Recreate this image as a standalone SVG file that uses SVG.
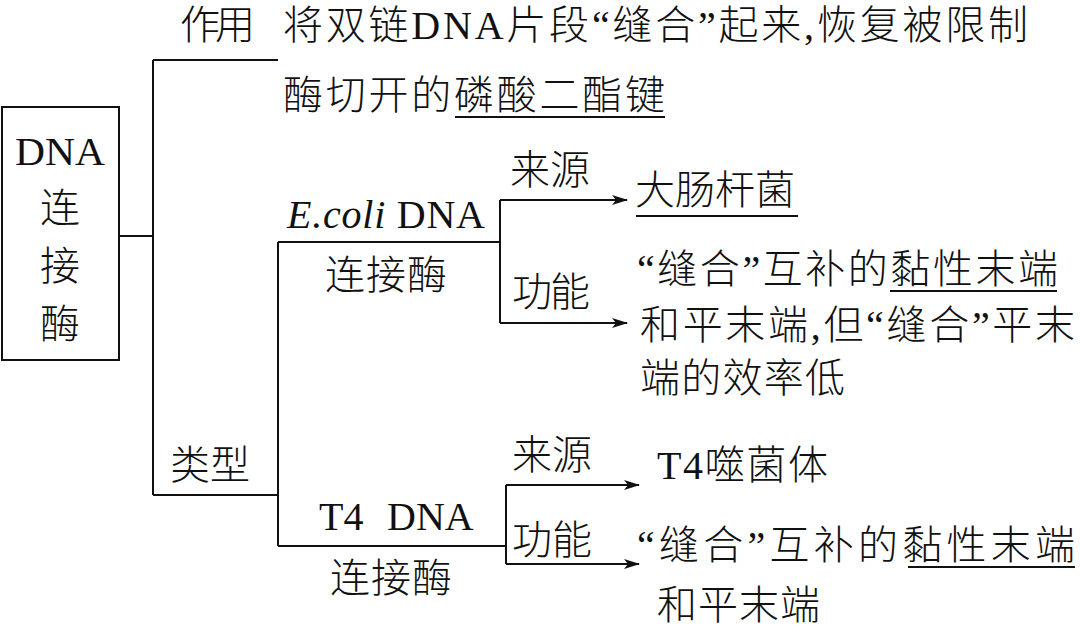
<svg xmlns="http://www.w3.org/2000/svg" width="1080" height="632" viewBox="0 0 1080 632">
<style>
  text { font-family: "Liberation Serif", "Noto Sans CJK SC", serif; font-size: 40px; fill: #111; font-weight: 300; }
  .c { text-anchor: middle; }
  .ln { stroke: #111; stroke-width: 2; fill: none; }
  .ul { stroke: #111; stroke-width: 2; }
</style>
<defs>
  <marker id="ah" markerWidth="16" markerHeight="12" refX="15" refY="6" orient="auto" markerUnits="userSpaceOnUse">
    <path d="M0,1 L16,6 L0,11 L4,6 Z" fill="#111"/>
  </marker>
</defs>
<rect width="1080" height="632" fill="#fff"/>

<g id="root">
  <rect x="2" y="107" width="117" height="253" class="ln"/>
  <text x="60" y="165" class="c" textLength="90" lengthAdjust="spacingAndGlyphs">DNA</text>
  <text x="60" y="222" class="c">连</text>
  <text x="60" y="280" class="c">接</text>
  <text x="60" y="338" class="c">酶</text>
</g>

<g id="connectors">
  <path class="ln" d="M119,236 H153"/>
  <path class="ln" d="M153,60 V495"/>
  <path class="ln" d="M153,60 H278"/>
  <path class="ln" d="M153,495 H278"/>
  <path class="ln" d="M278,242 V546"/>
  <path class="ln" d="M278,242 H500"/>
  <path class="ln" d="M500,200 V323"/>
  <path class="ln" d="M500,200 H627" marker-end="url(#ah)"/>
  <path class="ln" d="M500,323 H627" marker-end="url(#ah)"/>
  <path class="ln" d="M278,546 H506"/>
  <path class="ln" d="M506,485 V564"/>
  <path class="ln" d="M506,485 H639" marker-end="url(#ah)"/>
  <path class="ln" d="M506,564 H639" marker-end="url(#ah)"/>
</g>

<g id="function">
  <text x="180" y="39" textLength="75" lengthAdjust="spacing">作用</text>
  <text x="283" y="39" textLength="745" lengthAdjust="spacing">将双链DNA片段“缝合”起来,恢复被限制</text>
  <text x="283" y="109" textLength="382" lengthAdjust="spacing">酶切开的磷酸二酯键</text>
  <line class="ul" x1="455" y1="117" x2="665" y2="117"/>
</g>

<g id="types">
  <text x="170" y="479" textLength="80" lengthAdjust="spacing">类型</text>
</g>

<g id="ecoli">
  <text x="287" y="228" textLength="198" lengthAdjust="spacing"><tspan font-style="italic">E.coli</tspan> DNA</text>
  <text x="325" y="289" textLength="122" lengthAdjust="spacing">连接酶</text>
  <text x="510" y="184" textLength="80" lengthAdjust="spacing">来源</text>
  <text x="512" y="306" textLength="78" lengthAdjust="spacing">功能</text>
  <text x="635" y="204" textLength="160" lengthAdjust="spacing">大肠杆菌</text>
  <line class="ul" x1="636" y1="216" x2="798" y2="216"/>
  <text x="637" y="283" textLength="421" lengthAdjust="spacing">“缝合”互补的黏性末端</text>
  <line class="ul" x1="890" y1="291" x2="1057" y2="291"/>
  <text x="640" y="339" textLength="435" lengthAdjust="spacing">和平末端,但“缝合”平末</text>
  <text x="640" y="392" textLength="205" lengthAdjust="spacing">端的效率低</text>
</g>

<g id="t4">
  <text y="530"><tspan x="319">T4</tspan><tspan x="387">DNA</tspan></text>
  <text x="330" y="592" textLength="122" lengthAdjust="spacing">连接酶</text>
  <text x="512" y="469" textLength="80" lengthAdjust="spacing">来源</text>
  <text x="512" y="554" textLength="80" lengthAdjust="spacing">功能</text>
  <text x="657" y="479" textLength="171" lengthAdjust="spacing">T4噬菌体</text>
  <text x="637" y="559" textLength="438" lengthAdjust="spacing">“缝合”互补的黏性末端</text>
  <line class="ul" x1="908" y1="567" x2="1075" y2="567"/>
  <text x="657" y="619" textLength="163" lengthAdjust="spacing">和平末端</text>
</g>
</svg>
